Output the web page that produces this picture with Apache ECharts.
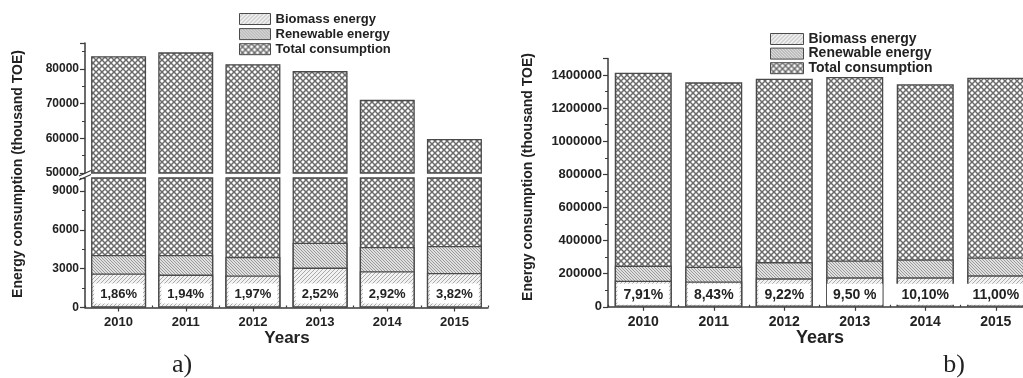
<!DOCTYPE html>
<html>
<head>
<meta charset="utf-8">
<script src="https://cdn.jsdelivr.net/npm/echarts@6/dist/echarts.min.js"></script>
<style>
  html, body { margin: 0; padding: 0; background: #fff; }
  #chart { width: 1023px; height: 378px; }
</style>
</head>
<body>
<div id="chart"></div>
<script>
// Categories
const years = ['2010', '2011', '2012', '2013', '2014', '2015'];

// Panel a) — energy consumption, thousand TOE
const totalA = [83700, 84800, 81400, 79400, 71100, 59800];
const renewableA = [4050, 4050, 3900, 5000, 4670, 4750];
const biomassA = [2620, 2540, 2470, 3080, 2800, 2670];
const shareA = ['1,86%', '1,94%', '1,97%', '2,52%', '2,92%', '3,82%'];

// Panel b) — energy consumption, thousand TOE
const totalB = [1414000, 1356000, 1378000, 1388000, 1344000, 1384000];
const renewableB = [248000, 242000, 270000, 280000, 286000, 298000];
const biomassB = [157000, 153000, 172000, 178000, 178000, 190000];
const shareB = ['7,91%', '8,43%', '9,22%', '9,50 %', '10,10%', '11,00%'];

const seriesNames = ['Biomass energy', 'Renewable energy', 'Total consumption'];

const FONT = '"Liberation Sans", Arial, sans-serif';
const INK = '#222';
const AXIS = '#3a3a3a';
const EDGE = '#4a4a4a';

// Hatch fills drawn on small tiles
function tile(size, draw) {
  const c = document.createElement('canvas');
  c.width = size; c.height = size;
  draw(c.getContext('2d'), size);
  return { image: c, repeat: 'repeat' };
}
const crossFill = tile(6, (g, s) => {
  g.fillStyle = '#ffffff'; g.fillRect(0, 0, s, s);
  g.strokeStyle = '#6a6a6a'; g.lineWidth = 1.5;
  g.beginPath();
  g.moveTo(0, 0); g.lineTo(s, s);
  g.moveTo(s, 0); g.lineTo(0, s);
  g.stroke();
});
const denseFill = tile(3, (g, s) => {
  g.fillStyle = '#e0e0e0'; g.fillRect(0, 0, s, s);
  g.strokeStyle = '#999999'; g.lineWidth = 1;
  g.beginPath();
  g.moveTo(0, 0); g.lineTo(s, s);
  g.moveTo(-1, s - 1); g.lineTo(1, s + 1);
  g.moveTo(s - 1, -1); g.lineTo(s + 1, 1);
  g.stroke();
});
const lightFill = tile(4, (g, s) => {
  g.fillStyle = '#f2f2f2'; g.fillRect(0, 0, s, s);
  g.strokeStyle = '#aaaaaa'; g.lineWidth = 1;
  g.beginPath();
  g.moveTo(0, s); g.lineTo(s, 0);
  g.moveTo(-1, 1); g.lineTo(1, -1);
  g.moveTo(s - 1, s + 1); g.lineTo(s + 1, s - 1);
  g.stroke();
});

const styles = {
  'Total consumption': { color: crossFill, borderColor: EDGE, borderWidth: 1.3 },
  'Renewable energy': { color: denseFill, borderColor: EDGE, borderWidth: 1.3 },
  'Biomass energy': { color: lightFill, borderColor: EDGE, borderWidth: 1.3 }
};

function valueAxis(grid, min, max, interval, size) {
  return {
    type: 'value', gridIndex: grid, min: min, max: max, interval: interval,
    splitLine: { show: false },
    axisLine: { show: true, lineStyle: { color: AXIS, width: 1.5 } },
    axisTick: { show: true, length: 5, lineStyle: { color: AXIS, width: 1.2 } },
    minorTick: { show: true, splitNumber: 2, length: 3, lineStyle: { color: AXIS, width: 1 } },
    axisLabel: {
      showMaxLabel: false, margin: 6,
      fontFamily: FONT, fontWeight: 'bold', fontSize: size, color: INK,
      formatter: v => String(v)
    }
  };
}
function catAxis(grid, size, show) {
  return {
    type: 'category', gridIndex: grid, data: years, show: show,
    axisLine: { show: true, onZero: false, lineStyle: { color: AXIS, width: 1.5 } },
    axisTick: { show: true, alignWithLabel: true, length: 4, lineStyle: { color: AXIS, width: 1.2 } },
    axisLabel: { margin: 8, fontFamily: FONT, fontWeight: 'bold', fontSize: size, color: INK }
  };
}
function boundaryTicks(grid) {
  return {
    type: 'category', gridIndex: grid, data: years,
    axisLine: { show: false },
    axisTick: { show: true, length: 2, lineStyle: { color: AXIS, width: 1.2 } },
    axisLabel: { show: false }
  };
}

function bar(name, xi, yi, data, width, labels, dist, size) {
  const s = {
    type: 'bar', name: name, xAxisIndex: xi, yAxisIndex: yi, data: data,
    barWidth: width, barGap: '-100%', clip: true,
    itemStyle: styles[name],
    emphasis: { disabled: true }
  };
  if (labels) {
    s.label = {
      show: true, position: 'insideBottom', distance: dist,
      formatter: p => labels[p.dataIndex],
      backgroundColor: '#ffffff', padding: [4, 6, 3, 6],
      fontFamily: FONT, fontWeight: 'bold', fontSize: size, color: INK
    };
  }
  return s;
}

function legend(left, top, w, h, gap, size) {
  return {
    left: left, top: top, orient: 'vertical', icon: 'rect', padding: 0,
    itemWidth: w, itemHeight: h, itemGap: gap, selectedMode: false,
    data: seriesNames,
    itemStyle: { borderColor: EDGE, borderWidth: 1 },
    textStyle: { fontFamily: FONT, fontWeight: 'bold', fontSize: size, lineHeight: 11, color: INK }
  };
}

function text(x, y, str, font, rot) {
  return {
    type: 'text', x: x, y: y, rotation: rot || 0, silent: true,
    style: { text: str, font: font, fill: INK, align: 'center', verticalAlign: 'middle' }
  };
}
function stroke(x1, y1, x2, y2) {
  return {
    type: 'line', silent: true,
    shape: { x1: x1, y1: y1, x2: x2, y2: y2 },
    style: { stroke: AXIS, lineWidth: 1.3 }
  };
}

const chart = echarts.init(document.getElementById('chart'), null, { renderer: 'canvas' });
chart.setOption({
  animation: false,
  backgroundColor: '#ffffff',
  grid: [
    { left: 85, top: 43, width: 403, height: 130, outerBoundsMode: 'none' },     // a) upper segment
    { left: 85, top: 178, width: 403, height: 129.5, outerBoundsMode: 'none' },  // a) lower segment
    { left: 608, top: 58.5, width: 423, height: 248.3, outerBoundsMode: 'none' } // b)
  ],
  legend: [
    legend(239, 12.5, 31, 11, 2.1, 13),
    legend(770, 32, 33, 11, 0.6, 14)
  ],
  xAxis: [
    catAxis(0, 13, false),
    catAxis(1, 13, true),
    boundaryTicks(1),
    catAxis(2, 14, true),
    boundaryTicks(2)
  ],
  yAxis: [
    valueAxis(0, 50000, 87500, 10000, 12),
    valueAxis(1, 0, 10000, 3000, 12),
    valueAxis(2, 0, 1500000, 200000, 13)
  ],
  series: [
    bar('Total consumption', 0, 0, totalA, 55),
    bar('Total consumption', 1, 1, totalA, 55),
    bar('Renewable energy', 1, 1, renewableA, 55),
    bar('Biomass energy', 1, 1, biomassA, 55, shareA, 4, 13),
    bar('Total consumption', 3, 2, totalB, 57),
    bar('Renewable energy', 3, 2, renewableB, 57),
    bar('Biomass energy', 3, 2, biomassB, 57, shareB, 2, 14)
  ],
  graphic: [
    text(18, 174, 'Energy consumption (thousand TOE)', 'bold 14px ' + FONT, Math.PI / 2),
    text(528, 177, 'Energy consumption (thousand TOE)', 'bold 14px ' + FONT, Math.PI / 2),
    text(287, 338, 'Years', 'bold 17px ' + FONT),
    text(820, 338, 'Years', 'bold 18px ' + FONT),
    text(182, 365, 'a)', '26px "Liberation Serif", "Times New Roman", serif'),
    text(954, 365, 'b)', '26px "Liberation Serif", "Times New Roman", serif'),
    // axis break marks on panel a)
    stroke(79, 176, 91, 170.5),
    stroke(79, 180, 91, 174.5)
  ]
});
</script>
</body>
</html>
